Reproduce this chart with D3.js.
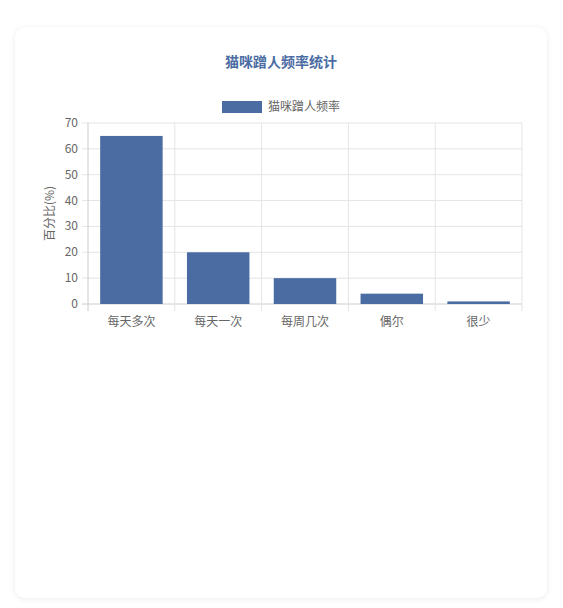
<!DOCTYPE html>
<html><head><meta charset="utf-8">
<script src="https://cdn.jsdelivr.net/npm/d3@7"></script>
<style>
body{margin:0;background:#fff;font-family:"Noto Sans CJK SC","Noto Sans",sans-serif;}
.card{position:absolute;left:15px;top:27px;width:532px;height:571px;background:#fff;border-radius:10px;box-shadow:0 1px 6px rgba(0,0,0,0.08);}
</style></head><body>
<div class="card"></div>
<svg id="c" width="563" height="608" style="position:absolute;left:0;top:0"></svg>
<script>
const categories = ["每天多次", "每天一次", "每周几次", "偶尔", "很少"];
const values = [65, 20, 10, 4, 1];
const yTicks = [0, 10, 20, 30, 40, 50, 60, 70];
const color = "#4a6ca3";

const svg = d3.select("#c");
const plotL = 88, plotR = 522, plotT = 123, plotB = 304;

const x = d3.scaleBand().domain(categories).range([plotL, plotR]).paddingInner(0).paddingOuter(0);
const y = d3.scaleLinear().domain([0, 70]).range([plotB, plotT]);

svg.append("text").attr("x", 281).attr("y", 67).attr("text-anchor", "middle")
  .style("font-size", "14px").style("font-weight", "bold").style("fill", "#4a6ca3")
  .text("猫咪蹭人频率统计");

// legend
svg.append("rect").attr("x", 222).attr("y", 101).attr("width", 40).attr("height", 12).attr("fill", color);
svg.append("text").attr("x", 268).attr("y", 111).style("font-size", "12px").style("fill", "#666").text("猫咪蹭人频率");

// grid
yTicks.forEach(t => {
  svg.append("line").attr("x1", plotL - 6).attr("x2", plotR).attr("y1", y(t)).attr("y2", y(t))
    .attr("stroke", t === 0 ? "#ccc" : "#e4e4e4");
  svg.append("text").attr("x", plotL - 10).attr("y", y(t) + 4).attr("text-anchor", "end")
    .style("font-size", "12px").style("fill", "#666").text(t);
});
categories.concat([null]).forEach((c, i) => {
  const xx = c ? x(c) : plotR;
  svg.append("line").attr("x1", xx).attr("x2", xx).attr("y1", plotT).attr("y2", plotB + 7)
    .attr("stroke", i === 0 ? "#ccc" : "#e4e4e4");
});

// bars
svg.selectAll(".bar").data(values).enter().append("rect")
  .attr("x", (d, i) => x(categories[i]) + x.bandwidth() * 0.14)
  .attr("width", x.bandwidth() * 0.72)
  .attr("y", d => y(d)).attr("height", d => plotB - y(d))
  .attr("fill", color);

categories.forEach(c => {
  svg.append("text").attr("x", x(c) + x.bandwidth() / 2).attr("y", 326).attr("text-anchor", "middle")
    .style("font-size", "12px").style("fill", "#666").text(c);
});

svg.append("text").attr("transform", `translate(54,${(plotT + plotB) / 2}) rotate(-90)`)
  .attr("text-anchor", "middle").style("font-size", "12px").style("fill", "#666").text("百分比(%)");
</script>
</body></html>
